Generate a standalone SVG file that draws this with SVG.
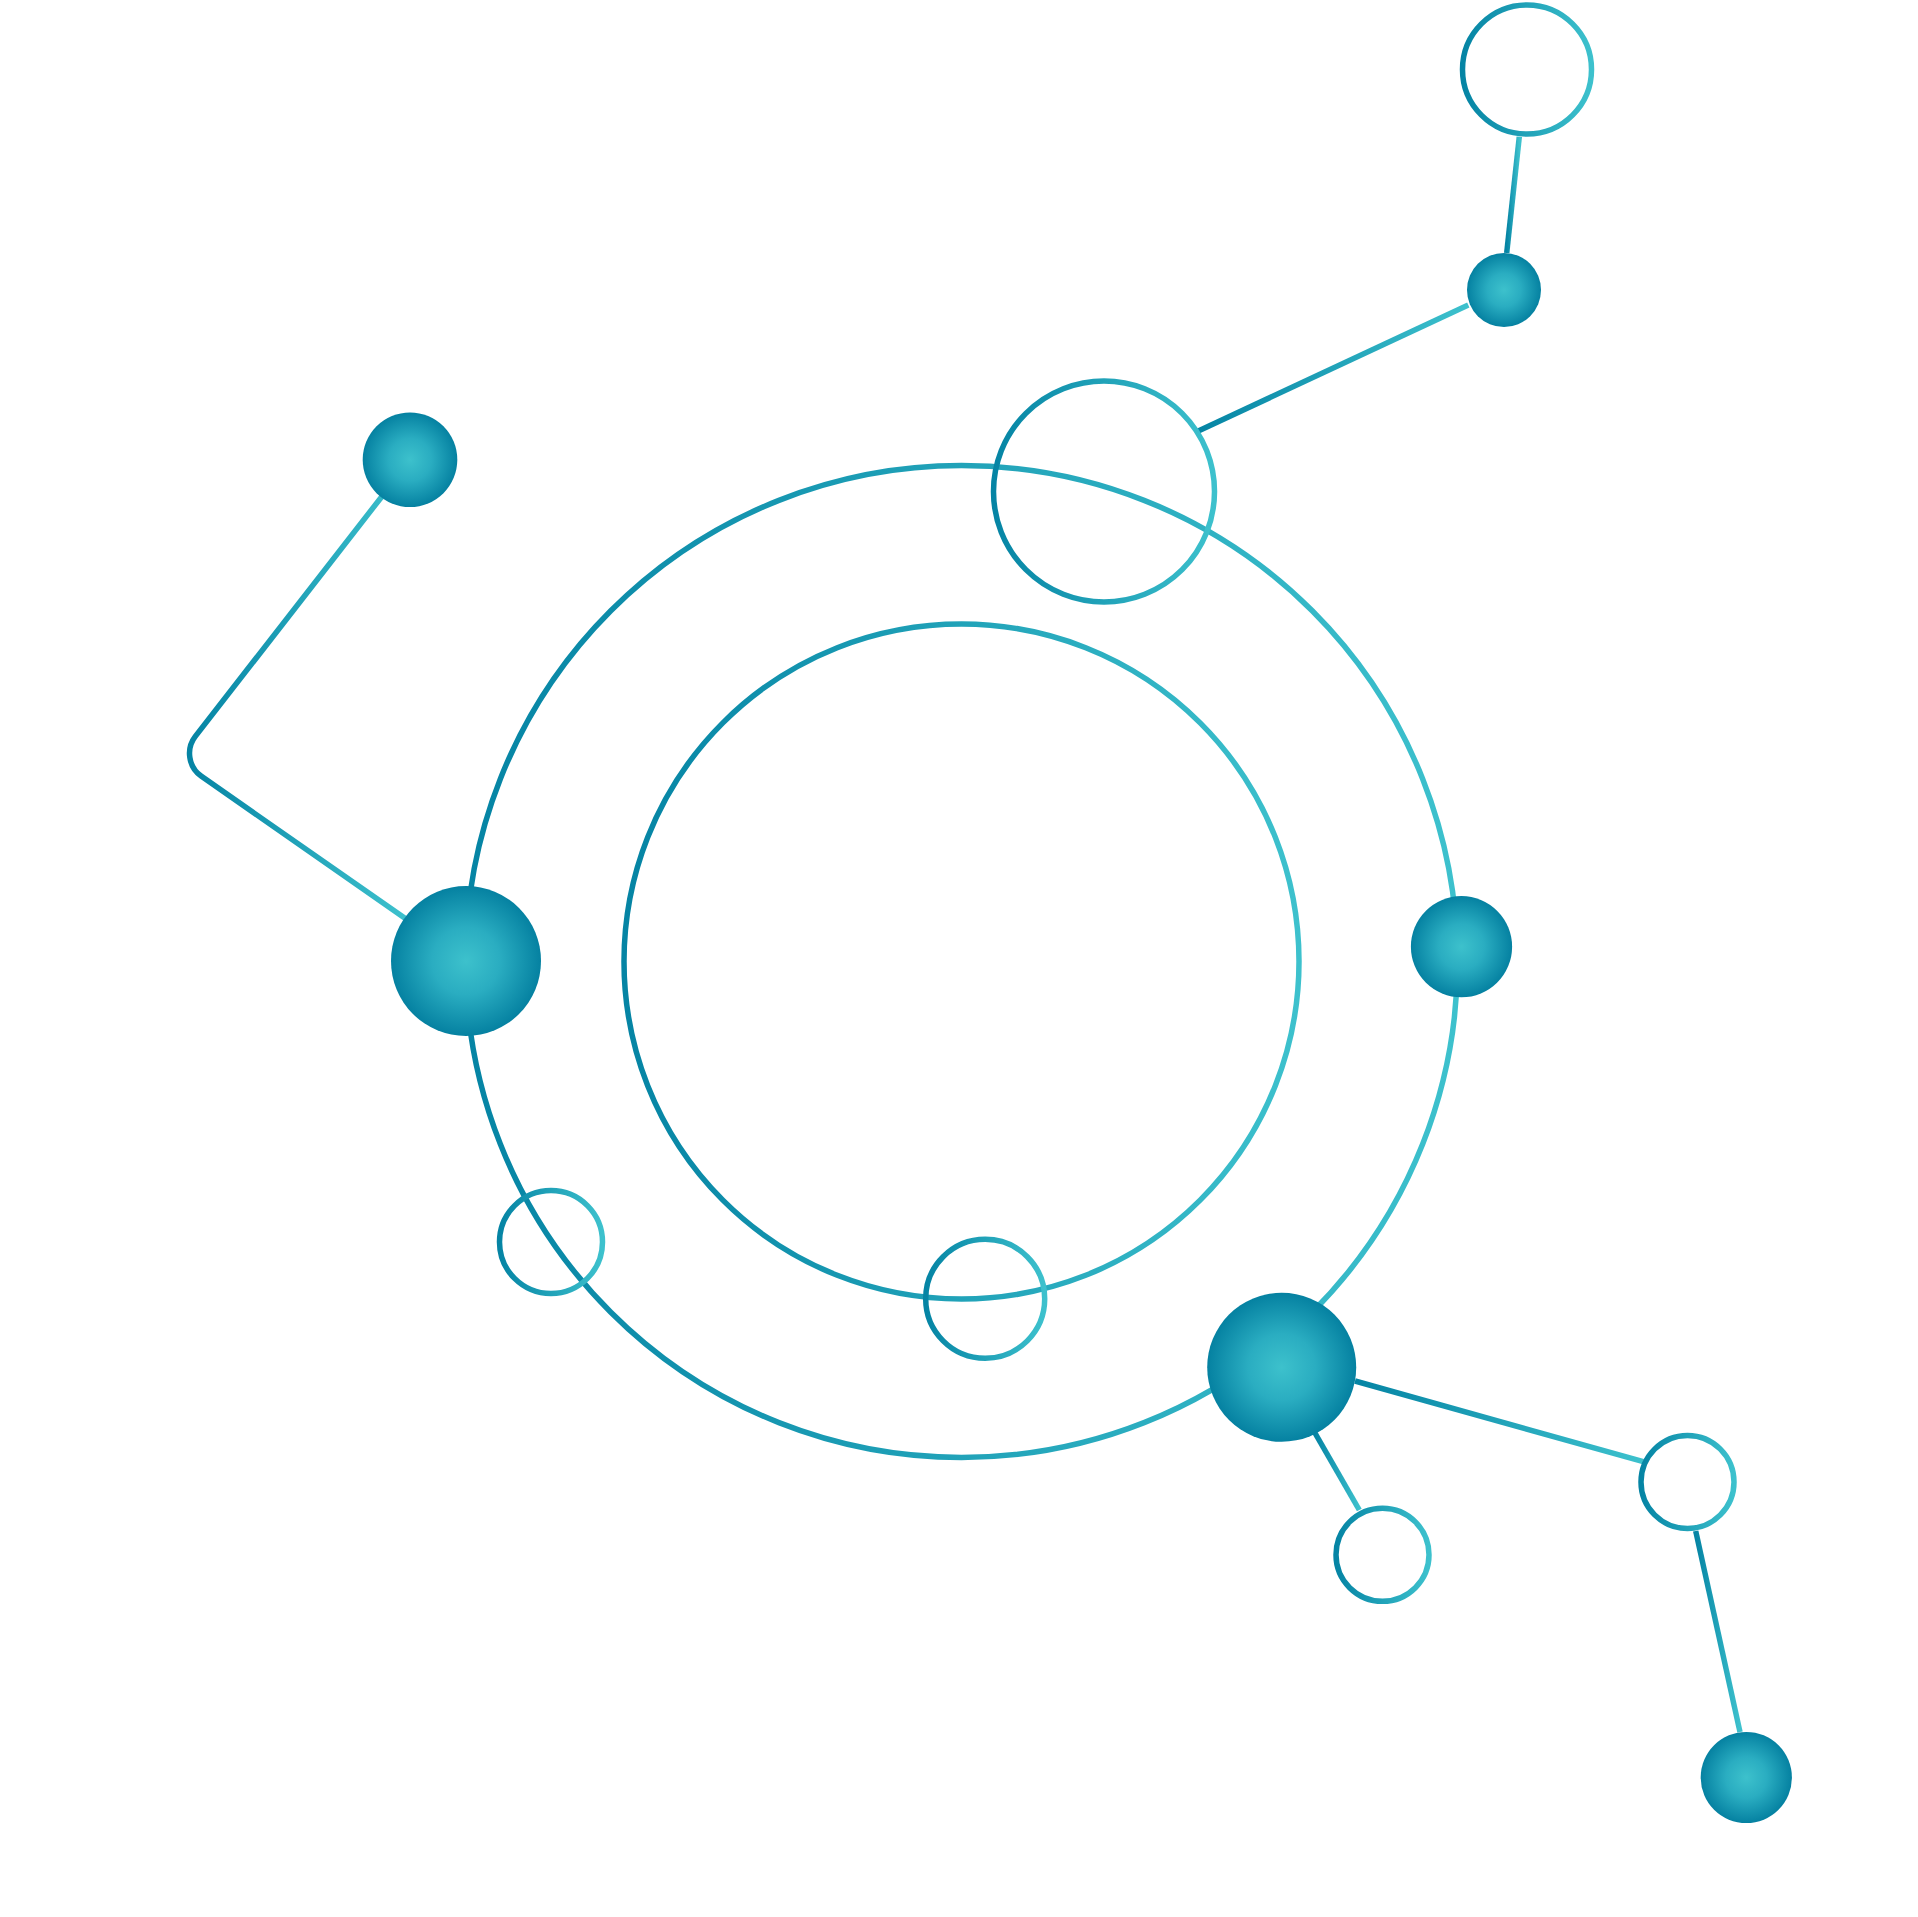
<svg xmlns="http://www.w3.org/2000/svg" width="1918" height="1917" viewBox="0 0 1918 1917">
<defs>
<linearGradient id="g" x1="0" y1="0" x2="1" y2="0">
<stop offset="0" stop-color="#0584a4"/>
<stop offset="1" stop-color="#3dc1cd"/>
</linearGradient>
<radialGradient id="rg" cx="0.5" cy="0.5" r="0.5">
<stop offset="0" stop-color="#3dc1cc"/>
<stop offset="0.45" stop-color="#2aadc1"/>
<stop offset="1" stop-color="#0581a1"/>
</radialGradient>
<style>
.ring{fill:none;stroke:url(#g);stroke-width:5.5}
.link{fill:none;stroke:url(#g);stroke-width:5.5;stroke-linecap:butt}
.hub{fill:url(#rg)}
</style>
</defs>
<rect width="1918" height="1917" fill="#ffffff"/>
<g id="outer-ring"><circle class="ring" cx="961.5" cy="961.5" r="496"/></g>
<g id="inner-ring"><circle class="ring" cx="961.5" cy="961.5" r="337.5"/></g>
<g id="connectors">
<path class="link" d="M381.7 496.7 L195.3 736.4 A28 28 0 0 0 201.1 776.1 L405 918.3"/>
<line class="link" x1="1506.7" y1="253" x2="1519.3" y2="136.7"/>
<line class="link" x1="1198.3" y1="431" x2="1468.3" y2="305"/>
<line class="link" x1="1355" y1="1381" x2="1643.3" y2="1461.7"/>
<line class="link" x1="1315" y1="1433" x2="1359.3" y2="1510"/>
<line class="link" x1="1695.7" y1="1531" x2="1740" y2="1732"/>
</g>
<g id="node-top-hollow"><circle class="ring" cx="1104" cy="491.5" r="110.5"/></g>
<g id="node-topright-hollow"><circle class="ring" cx="1527" cy="69.5" r="64.5"/></g>
<g id="node-left-hollow"><circle class="ring" cx="551" cy="1242" r="51.5"/></g>
<g id="node-bottom-hollow"><circle class="ring" cx="985.2" cy="1298.8" r="59.5"/></g>
<g id="node-br-hollow1"><circle class="ring" cx="1382.5" cy="1554.8" r="46.5"/></g>
<g id="node-br-hollow2"><circle class="ring" cx="1687.5" cy="1482" r="46.5"/></g>
<g id="node-topleft"><circle class="hub" cx="410" cy="459.7" r="47.3"/></g>
<g id="node-left"><circle class="hub" cx="466" cy="961" r="75"/></g>
<g id="node-right"><circle class="hub" cx="1461.5" cy="946.7" r="50.6"/></g>
<g id="node-topright"><circle class="hub" cx="1504" cy="290" r="37"/></g>
<g id="node-bottomright"><circle class="hub" cx="1281.7" cy="1367.3" r="74.5"/></g>
<g id="node-bottom-end"><circle class="hub" cx="1746.3" cy="1777.5" r="45.6"/></g>
</svg>
